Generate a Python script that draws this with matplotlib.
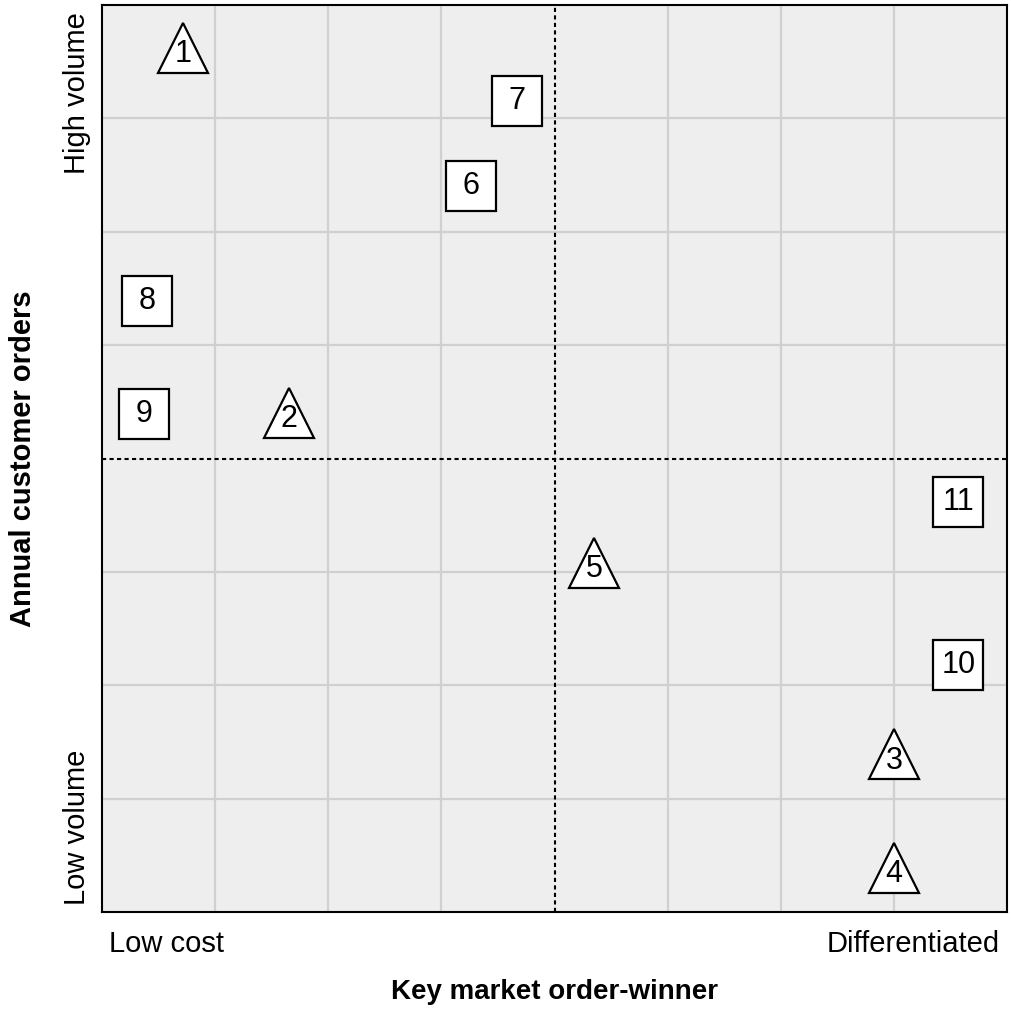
import matplotlib
matplotlib.use("Agg")
import matplotlib.pyplot as plt

plt.rcParams['font.family'] = ['Liberation Sans', 'DejaVu Sans']

# products: label, x (order-winner), y (annual orders), marker
labels = ['1', '2', '3', '4', '5', '6', '7', '8', '9', '10', '11']
x_vals = [0.72, 1.65, 7.0, 7.0, 4.35, 3.26, 3.67, 0.40, 0.37, 7.57, 7.57]
y_vals = [7.62, 4.40, 1.39, 0.39, 3.08, 6.40, 7.15, 5.39, 4.39, 2.18, 3.62]
shapes = ['^', '^', '^', '^', '^', 's', 's', 's', 's', 's', 's']

fig = plt.figure(figsize=(10.11, 10.13), dpi=100)
ax = fig.add_axes([0.1009, 0.0997, 0.8952, 0.8953])
ax.set_facecolor('#eeeeee')
ax.set_xlim(0, 8)
ax.set_ylim(0, 8)

# grid
for g in range(1, 8):
    if g == 4:
        continue
    ax.axvline(g, color='#d0d0d0', lw=1.6, zorder=1)
    ax.axhline(g, color='#d0d0d0', lw=1.6, zorder=1)
ax.axvline(4, color='black', lw=1.5, ls=(0, (2, 1.6)), zorder=2)
ax.axhline(4, color='black', lw=1.5, ls=(0, (2, 1.6)), zorder=2)

for lab, x, y, m in zip(labels, x_vals, y_vals, shapes):
    ax.plot(x, y, marker=m, ms=36, mfc='white', mec='black', mew=1.6,
            ls='none', zorder=3)
    dy = -0.055 if m == '^' else 0
    ax.text(x, y + dy, lab, ha='center', va='center', fontsize=22, zorder=4)

for s in ax.spines.values():
    s.set_linewidth(1.5)
ax.set_xticks([])
ax.set_yticks([])

ax.text(0.008, -0.02, 'Low cost', transform=ax.transAxes, ha='left', va='top',
        fontsize=21)
ax.text(0.992, -0.02, 'Differentiated', transform=ax.transAxes, ha='right',
        va='top', fontsize=21)
ax.text(-0.012, 0.008, 'Low volume', transform=ax.transAxes, ha='right',
        va='bottom', rotation=90, fontsize=21)
ax.text(-0.012, 0.992, 'High volume', transform=ax.transAxes, ha='right',
        va='top', rotation=90, fontsize=21)

ax.set_xlabel('Key market order-winner', fontsize=20, fontweight='bold',
              labelpad=48)
ax.set_ylabel('Annual customer orders', fontsize=21, fontweight='bold',
              labelpad=47)

fig.savefig('out.png', dpi=100)
